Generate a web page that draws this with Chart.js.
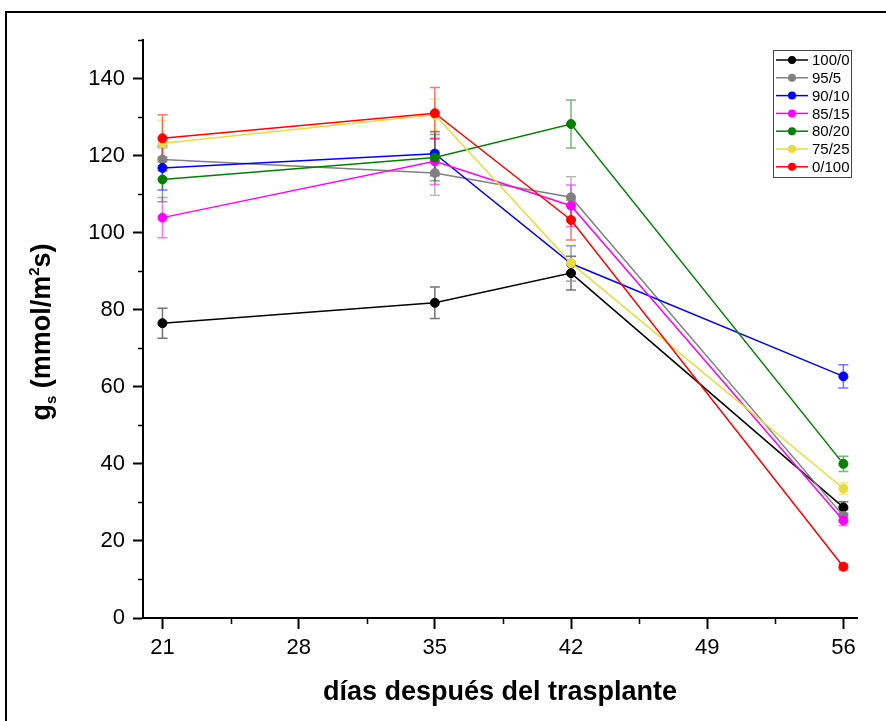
<!DOCTYPE html>
<html>
<head>
<meta charset="utf-8">
<script src="https://cdn.jsdelivr.net/npm/chart.js@4.4.1/dist/chart.umd.min.js"></script>
<style>
  html, body { margin: 0; padding: 0; background: #fff; }
  #wrap { width: 886px; height: 721px; position: relative; }
</style>
</head>
<body>
<div id="wrap"><canvas id="myChart"></canvas></div>
<script>
'use strict';

// days after transplant
const days = [21, 35, 42, 56];
const seriesNames = ['100/0', '95/5', '90/10', '85/15', '80/20', '75/25', '0/100'];
const seriesColors = ['#000000', '#808080', '#0000ff', '#ff00ff', '#008000', '#e8dc3c', '#ff0000'];

// gs values per treatment, and their error bars
const gs100_0 = [76.5, 81.8, 89.5, 28.7];
const gs95_5 = [119.0, 115.5, 109.2, 26.5];
const gs90_10 = [116.8, 120.5, 92.0, 62.7];
const gs85_15 = [103.9, 118.5, 107.0, 25.3];
const gs80_20 = [113.8, 119.5, 128.2, 40.0];
const gs75_25 = [123.2, 130.6, 92.1, 33.6];
const gs0_100 = [124.5, 131.0, 103.3, 13.3];

const err100_0 = [3.9, 4.1, 4.4, 1.5];
const err95_5 = [3.0, 5.8, 5.3, 1.5];
const err90_10 = [5.7, 5.7, 4.6, 3.0];
const err85_15 = [5.2, 6.0, 5.4, 1.3];
const err80_20 = [5.8, 6.0, 6.2, 2.0];
const err75_25 = [6.0, 4.0, 4.7, 1.5];
const err0_100 = [6.1, 6.7, 5.2, 0.8];

const yTicks = [0, 20, 40, 60, 80, 100, 120, 140];
const yMinorTicks = [10, 30, 50, 70, 90, 110, 130, 150];
const xTicks = [21, 28, 35, 42, 49, 56];
const xMinorTicks = [24.5, 31.5, 38.5, 45.5, 52.5];

const allValues = [gs100_0, gs95_5, gs90_10, gs85_15, gs80_20, gs75_25, gs0_100];
const allErrors = [err100_0, err95_5, err90_10, err85_15, err80_20, err75_25, err0_100];

const withAlpha = (hex, a) => {
  const n = parseInt(hex.slice(1), 16);
  return `rgba(${(n >> 16) & 255}, ${(n >> 8) & 255}, ${n & 255}, ${a})`;
};

const datasets = seriesNames.map((name, i) => ({
  label: name,
  data: days.map((d, j) => ({ x: d, y: allValues[i][j] })),
  errors: allErrors[i],
  borderColor: seriesColors[i],
  backgroundColor: seriesColors[i],
  pointBorderColor: seriesColors[i],
  pointBackgroundColor: seriesColors[i],
  borderWidth: 1.5,
  pointRadius: 4.5,
  pointBorderWidth: 1,
  tension: 0,
  order: seriesNames.length - i
}));

// error bars, drawn under the points
const errorBars = {
  id: 'errorBars',
  beforeDatasetsDraw(chart) {
    const { ctx, scales: { x, y } } = chart;
    ctx.save();
    chart.data.datasets.forEach((ds) => {
      ctx.strokeStyle = withAlpha(ds.borderColor, 0.55);
      ctx.lineWidth = 1.5;
      ds.data.forEach((p, j) => {
        const px = x.getPixelForValue(p.x);
        const top = y.getPixelForValue(p.y + ds.errors[j]);
        const bot = y.getPixelForValue(p.y - ds.errors[j]);
        ctx.beginPath();
        ctx.moveTo(px, top); ctx.lineTo(px, bot);
        ctx.moveTo(px - 5, top); ctx.lineTo(px + 5, top);
        ctx.moveTo(px - 5, bot); ctx.lineTo(px + 5, bot);
        ctx.stroke();
      });
    });
    ctx.restore();
  }
};

// frame, minor ticks, y title with sub/superscript, legend box
const decorations = {
  id: 'decorations',
  afterDraw(chart) {
    const { ctx, chartArea: { left, bottom }, scales: { x, y } } = chart;
    ctx.save();

    // outer frame
    ctx.strokeStyle = '#000';
    ctx.lineWidth = 2;
    ctx.strokeRect(6, 12, 900, 740);

    // minor ticks
    ctx.lineWidth = 1.5;
    ctx.beginPath();
    yMinorTicks.forEach(v => {
      const py = Math.round(y.getPixelForValue(v)) + 0.5;
      ctx.moveTo(left, py); ctx.lineTo(left - 5, py);
    });
    xMinorTicks.forEach(v => {
      const px = Math.round(x.getPixelForValue(v)) + 0.5;
      ctx.moveTo(px, bottom); ctx.lineTo(px, bottom + 6);
    });
    ctx.stroke();

    // y axis title: g_s (mmol/m^2 s)
    ctx.translate(41, 332);
    ctx.rotate(-Math.PI / 2);
    ctx.fillStyle = '#000';
    const big = 'bold 27px Arial, "Liberation Sans", sans-serif';
    const small = 'bold 15px Arial, "Liberation Sans", sans-serif';
    const parts = [
      { t: 'g', f: big, dy: 0 },
      { t: 's', f: small, dy: 6 },
      { t: ' (mmol/m', f: big, dy: 0 },
      { t: '2', f: small, dy: -11 },
      { t: 's)', f: big, dy: 0 }
    ];
    let total = 0;
    parts.forEach(p => { ctx.font = p.f; p.w = ctx.measureText(p.t).width; total += p.w; });
    let cx = -total / 2;
    ctx.textBaseline = 'alphabetic';
    ctx.textAlign = 'left';
    parts.forEach(p => {
      ctx.font = p.f;
      ctx.fillText(p.t, cx, 9 + p.dy);
      cx += p.w;
    });
    ctx.setTransform(1, 0, 0, 1, 0, 0);

    // legend
    ctx.lineWidth = 1;
    ctx.strokeStyle = '#444';
    ctx.strokeRect(773.5, 50.5, 78, 127);
    ctx.font = '15px Arial, "Liberation Sans", sans-serif';
    ctx.textBaseline = 'middle';
    seriesNames.forEach((name, i) => {
      const ry = 60 + i * 17.8;
      ctx.strokeStyle = seriesColors[i];
      ctx.fillStyle = seriesColors[i];
      ctx.lineWidth = 1.5;
      ctx.beginPath();
      ctx.moveTo(776, ry); ctx.lineTo(808, ry);
      ctx.stroke();
      ctx.beginPath();
      ctx.arc(792, ry, 4, 0, Math.PI * 2);
      ctx.fill();
      ctx.fillStyle = '#000';
      ctx.fillText(name, 812, ry + 1);
    });

    ctx.restore();
  }
};

const tickFont = { family: 'Arial, "Liberation Sans", sans-serif', size: 22 };

// config
const config = {
  type: 'line',
  data: { datasets },
  options: {
    responsive: true,
    maintainAspectRatio: false,
    animation: false,
    layout: { padding: { left: 0, top: 40, right: 29, bottom: 0 } },
    plugins: {
      legend: { display: false },
      tooltip: { enabled: false }
    },
    scales: {
      x: {
        type: 'linear',
        min: 20,
        max: 56.7,
        afterBuildTicks: (scale) => { scale.ticks = xTicks.map(v => ({ value: v })); },
        afterFit: (scale) => { scale.height = 103; },
        grid: { drawOnChartArea: false, tickLength: 11, tickColor: '#000', tickWidth: 2 },
        border: { color: '#000', width: 2 },
        ticks: { color: '#000', font: tickFont, padding: 6, maxRotation: 0 },
        title: {
          display: true,
          text: 'días después del trasplante',
          color: '#000',
          font: { family: 'Arial, "Liberation Sans", sans-serif', size: 27, weight: 'bold' },
          padding: { top: 0, bottom: 12 }
        }
      },
      y: {
        min: 0,
        max: 150,
        afterBuildTicks: (scale) => { scale.ticks = yTicks.map(v => ({ value: v })); },
        afterFit: (scale) => { scale.width = 143; },
        grid: { drawOnChartArea: false, tickLength: 10, tickColor: '#000', tickWidth: 2 },
        border: { color: '#000', width: 2 },
        ticks: { color: '#000', font: tickFont, padding: 8 }
      }
    }
  },
  plugins: [errorBars, decorations]
};

// render init block
const myChart = new Chart(document.getElementById('myChart'), config);
</script>
</body>
</html>
